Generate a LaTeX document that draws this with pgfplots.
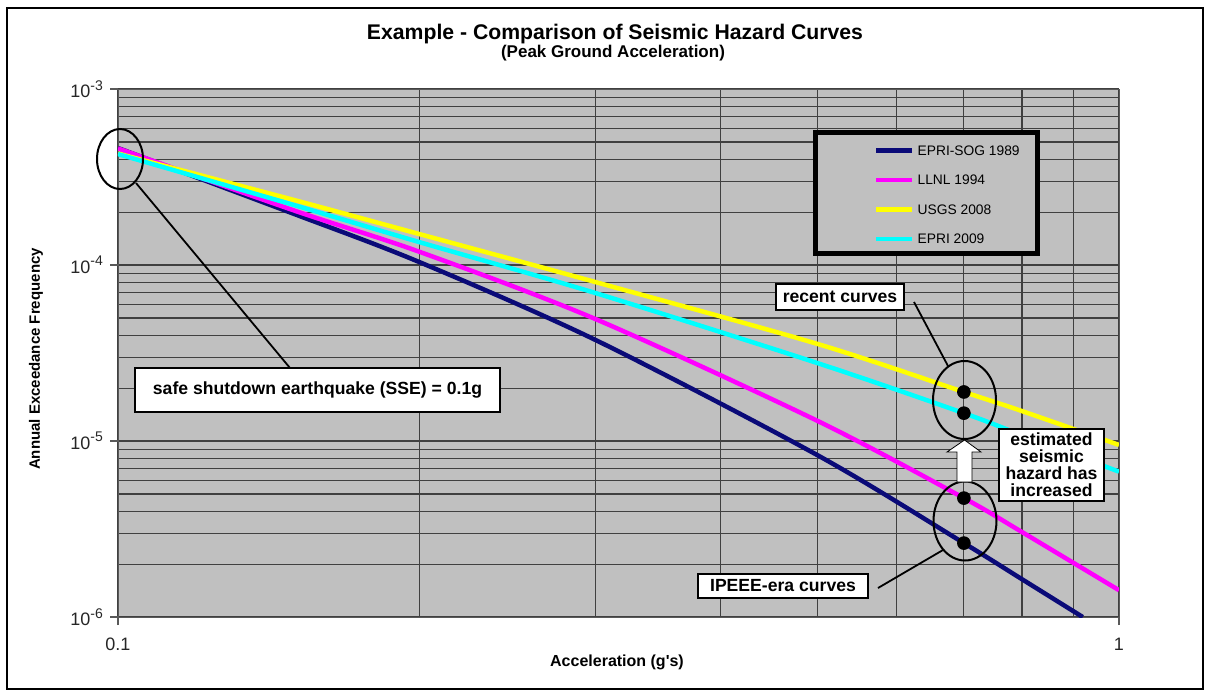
\documentclass[border=0pt]{standalone}
\usepackage{pgfplots}
\pgfplotsset{compat=1.18}
\usepackage{fontspec}
\setmainfont{Liberation Sans}
\definecolor{navyc}{RGB}{10,10,120}
\definecolor{plotgray}{RGB}{192,192,192}
\definecolor{magc}{RGB}{255,0,255}
\definecolor{yelc}{RGB}{255,255,0}
\definecolor{cyac}{RGB}{0,255,255}
\newcommand\af{\bfseries\fontsize{8.8}{8.5}\selectfont}
\newcommand\ex[1]{10\raisebox{0.42em}{\fontsize{7}{8}\selectfont #1}}
\begin{document}
\begin{tikzpicture}
\begin{scope}[x=0.5pt,y=-0.5pt]
\useasboundingbox (0,0) rectangle (1207,692);
\end{scope}
\begin{axis}[
  at={(59pt,-308.5pt)}, anchor=south west,
  scale only axis, width=500.5pt, height=264pt,
  xmode=log, ymode=log,
  xmin=0.1, xmax=1, ymin=1e-6, ymax=1e-3,
  axis background/.style={fill=plotgray},
  xmajorgrids, xminorgrids, ymajorgrids, yminorgrids,
  major grid style={draw=black!75, line width=0.55pt},
  minor grid style={draw=black!75, line width=0.55pt},
  xtick={0.1,1}, xticklabels={0.1,1},
  minor xtick={0.2,0.3,0.4,0.5,0.6,0.7,0.8,0.9},
  ytick={1e-6,1e-5,1e-4,1e-3},
  yticklabels={\ex{-6},\ex{-5},\ex{-4},\ex{-3}},
  minor ytick={2e-6,3e-6,4e-6,5e-6,6e-6,7e-6,8e-6,9e-6,2e-5,3e-5,4e-5,5e-5,6e-5,7e-5,8e-5,9e-5,2e-4,3e-4,4e-4,5e-4,6e-4,7e-4,8e-4,9e-4},
  xtick pos=bottom, ytick pos=left,
  tick align=outside, major tick length=4pt, minor tick length=0pt,
  axis line style={draw=black!65},
  tick style={black!65, line width=0.6pt},
  ticklabel style={font=\fontsize{9}{10}\selectfont, text=black!85},
  xticklabel style={yshift=-3pt},
  legend image code/.code={\draw[#1] (0pt,0pt) -- (18pt,0pt);},
  legend cell align=left,
  legend style={at={(axis description cs:0.755,0.8996)}, anchor=north west,
    draw=none, fill=none, inner sep=0pt, row sep=6.75pt,
    font=\fontsize{6.9}{8}\selectfont,
    nodes={inner sep=1.5pt, text height=5pt, text depth=0pt}},
]
\addplot[navyc, line width=2.25pt, smooth] coordinates {
 (0.1,4.62e-4) (0.15,1.95e-4) (0.2,1.04e-4) (0.3,3.75e-5) (0.5,8.3e-6) (0.7,2.63e-6) (0.8,1.64e-6) (0.92,1.0e-6)};
\addlegendentry{EPRI-SOG 1989}
\addplot[magc, line width=2.25pt, smooth] coordinates {
 (0.1,4.6e-4) (0.15,2.04e-4) (0.2,1.19e-4) (0.3,4.93e-5) (0.5,1.30e-5) (0.7,4.74e-6) (0.8,3.04e-6) (1.0,1.42e-6)};
\addlegendentry{LLNL 1994}
\addplot[yelc, line width=2.25pt, smooth] coordinates {
 (0.1,4.3e-4) (0.15,2.34e-4) (0.2,1.50e-4) (0.3,8.0e-5) (0.5,3.56e-5) (0.7,1.9e-5) (0.8,1.48e-5) (1.0,9.5e-6)};
\addlegendentry{USGS 2008}
\addplot[cyac, line width=2.25pt, smooth] coordinates {
 (0.1,4.27e-4) (0.15,2.19e-4) (0.2,1.35e-4) (0.3,6.93e-5) (0.5,2.77e-5) (0.7,1.44e-5) (0.8,1.08e-5) (1.0,6.7e-6)};
\addlegendentry{EPRI 2009}
\addplot[only marks, mark=*, mark size=3.2pt, black, forget plot] coordinates {
 (0.7,1.9e-5) (0.7,1.44e-5) (0.7,4.74e-6) (0.7,2.63e-6)};
\draw[line width=2.5pt, fill=plotgray] (axis description cs:0.6973,0.6894) rectangle (axis description cs:0.9181,0.9186);
\end{axis}
\begin{scope}[x=0.5pt,y=-0.5pt]
\draw[line width=1pt] (7,8) rectangle (1203,689);
\node[font=\bfseries\fontsize{10.6}{12}\selectfont] at (615,34) {Example - Comparison of Seismic Hazard Curves};
\node[font=\bfseries\fontsize{8.5}{10}\selectfont] at (613,53) {(Peak Ground Acceleration)};
\node[rotate=90, font=\bfseries\fontsize{7.5}{9}\selectfont] at (36,359) {Annual Exceedance Frequency};
\node[font=\bfseries\fontsize{8}{9}\selectfont] at (617,662) {Acceleration (g\textquotesingle s)};
% SSE annotation
\draw[line width=1pt] (120,159) ellipse [x radius=11.5pt, y radius=15pt];
\draw[line width=0.9pt] (136,183) -- (290,368);
\node[draw, line width=1pt, fill=white, minimum width=182.5pt, minimum height=22pt, inner sep=0pt, font=\af] at (317.5,390) {safe shutdown earthquake (SSE) = 0.1g};
% recent curves
\draw[line width=0.9pt] (914,302) -- (948,366);
\node[draw, line width=1pt, fill=white, minimum width=64pt, minimum height=13pt, inner sep=0pt, font=\af] at (840,296.5) {recent curves};
\draw[line width=1pt] (964.5,400) ellipse [x radius=15.75pt, y radius=19.5pt];
\draw[line width=1pt] (965,521) ellipse [x radius=15.75pt, y radius=19.75pt];
\draw[line width=0.4pt, fill=white] (957,482) -- (957,452) -- (947,452) -- (964.5,440) -- (981,452) -- (972,452) -- (972,482) -- cycle;
\draw[line width=1pt, fill=white] (999,429) rectangle (1104,501);
\node[align=center, font=\af, inner sep=0pt] at (1051.5,465) {estimated\\seismic\\hazard has\\increased};
% IPEEE
\draw[line width=0.9pt] (878,588) -- (943,550);
\node[draw, line width=1pt, fill=white, minimum width=85pt, minimum height=12pt, inner sep=0pt, font=\af] at (783,586) {IPEEE-era curves};
\end{scope}
\end{tikzpicture}
\end{document}
